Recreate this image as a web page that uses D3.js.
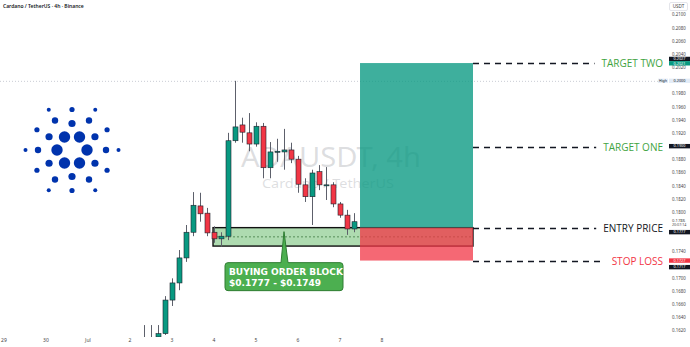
<!DOCTYPE html>
<html>
<head>
<meta charset="utf-8">
<script src="https://cdn.jsdelivr.net/npm/d3@7/dist/d3.min.js"></script>
<style>
  body { margin: 0; background: #fff; }
  svg { display: block; font-family: "Noto Sans", sans-serif; }
</style>
</head>
<body>
<svg></svg>
<script>
// ADA/USDT 4h candles, index 0 = Jul 2 ~ 12:00
const candleOpen  = [0.1603, 0.1600, 0.1611, 0.1616, 0.1667, 0.1693, 0.1731, 0.1770, 0.1810, 0.1799, 0.1770,
                     0.1760, 0.1764, 0.1909, 0.1933, 0.1921, 0.1904, 0.1931, 0.1868, 0.1892, 0.1892, 0.1895,
                     0.1881, 0.1842, 0.1824, 0.1862, 0.1842, 0.1842, 0.1813, 0.1796, 0.1775];
const candleHigh  = [0.1629, 0.1629, 0.1629, 0.1673, 0.1700, 0.1743, 0.1781, 0.1831, 0.1830, 0.1807, 0.1779,
                     0.1770, 0.1921, 0.2000, 0.1944, 0.1951, 0.1937, 0.1936, 0.1907, 0.1912, 0.1927, 0.1906,
                     0.1886, 0.1852, 0.1865, 0.1872, 0.1869, 0.1846, 0.1816, 0.1804, 0.1799];
const candleLow   = [0.1595, 0.1595, 0.1609, 0.1614, 0.1658, 0.1682, 0.1725, 0.1764, 0.1786, 0.1764, 0.1754,
                     0.1748, 0.1758, 0.1906, 0.1906, 0.1893, 0.1900, 0.1852, 0.1852, 0.1877, 0.1865, 0.1875,
                     0.1830, 0.1816, 0.1781, 0.1834, 0.1819, 0.1808, 0.1792, 0.1766, 0.1770];
const candleClose = [0.1600, 0.1604, 0.1616, 0.1667, 0.1693, 0.1731, 0.1770, 0.1811, 0.1798, 0.1769, 0.1760,
                     0.1764, 0.1909, 0.1930, 0.1922, 0.1904, 0.1931, 0.1868, 0.1892, 0.1893, 0.1895, 0.1881,
                     0.1843, 0.1824, 0.1860, 0.1842, 0.1842, 0.1813, 0.1796, 0.1775, 0.1786];

const dayTicks  = [-20, -14, -8, -2, 4, 10, 16, 22, 28, 34];
const dayLabels = ["29", "30", "Jul", "2", "3", "4", "5", "6", "7", "8"];

const priceTicks = [0.2100, 0.2080, 0.2060, 0.2040, 0.2020, 0.1980, 0.1960, 0.1940, 0.1920, 0.1880,
                    0.1860, 0.1840, 0.1820, 0.1800, 0.1740, 0.1700, 0.1680, 0.1660, 0.1640, 0.1620];

// trade plan
const levelNames  = ["TARGET TWO", "TARGET ONE", "ENTRY PRICE", "STOP LOSS"];
const levelPrices = [0.2027, 0.1900, 0.1777, 0.1727];
const blockRange  = [0.1777, 0.1749];     // buying order block
const blockStart  = 9.86;                 // candle index
const planStart   = 30.86;
const planEnd     = 47;
const highPrice   = 0.2000;

// price-axis tags
const markPrices = [0.2027, 0.2021, 0.2000, 0.1900, 0.1777, 0.1727, 0.1717];
const markKinds  = ["dark", "teal", "high", "dark", "dark", "red", "dark"];
const lastPrice  = 0.1786;
const countdown  = "20:07:14";

const width = 690, height = 347;
const svg = d3.select('svg').attr('width', width).attr('height', height);

const x = d3.scaleLinear().domain([-20.57, 78]).range([0, width]);
const y = d3.scaleLinear().domain([0.1620, 0.2100]).range([331, 15]);

svg.append('defs').append('clipPath').attr('id', 'plot')
    .append('rect').attr('x', 0).attr('y', 0).attr('width', 660).attr('height', 337);

const plot = svg.append('g').attr('clip-path', 'url(#plot)');

// watermark
plot.append('text')
    .attr('x', 241).attr('y', 167)
    .attr('font-size', 27)
    .attr('textLength', 180).attr('lengthAdjust', 'spacingAndGlyphs')
    .attr('fill', 'rgba(120,123,134,0.25)')
    .text('ADAUSDT, 4h');
plot.append('text')
    .attr('x', 262).attr('y', 188)
    .attr('font-size', 13)
    .attr('textLength', 132).attr('lengthAdjust', 'spacingAndGlyphs')
    .attr('fill', 'rgba(120,123,134,0.25)')
    .text('Cardano / TetherUS');

// cardano logo
const logo = plot.append('g').attr('transform', 'translate(72,150)');
const rings = [
    {r: 15,   a: 0,  s: 5.7},
    {r: 26.5, a: 30, s: 3.6},
    {r: 34,   a: 0,  s: 3.2},
    {r: 40.5, a: 30, s: 2.6},
    {r: 46.5, a: 0,  s: 2.0}
];
rings.forEach(function(ring) {
    d3.range(6).forEach(function(k) {
        let ang = (ring.a + k * 60) * Math.PI / 180;
        logo.append('circle')
            .attr('cx', ring.r * Math.cos(ang))
            .attr('cy', ring.r * Math.sin(ang))
            .attr('r', ring.s)
            .attr('fill', '#0033ad');
    });
});

// high line
plot.append('line')
    .attr('x1', 0).attr('x2', 660)
    .attr('y1', y(highPrice) + 0.5).attr('y2', y(highPrice) + 0.5)
    .attr('stroke', '#c9ccd4').attr('stroke-dasharray', '1,2');

// order block
const bx0 = x(blockStart), bx1 = x(planEnd);
const by0 = y(blockRange[0]), by1 = y(blockRange[1]);
plot.append('rect')
    .attr('x', bx0).attr('y', by0)
    .attr('width', bx1 - bx0).attr('height', by1 - by0)
    .attr('fill', 'rgba(76,175,80,0.45)');
plot.append('line')
    .attr('x1', bx0).attr('x2', bx1)
    .attr('y1', (by0 + by1) / 2).attr('y2', (by0 + by1) / 2)
    .attr('stroke', '#2e6b30').attr('stroke-dasharray', '2,2').attr('stroke-width', 0.7);
plot.append('rect')
    .attr('x', bx0).attr('y', by0)
    .attr('width', bx1 - bx0).attr('height', by1 - by0)
    .attr('fill', 'none').attr('stroke', '#111').attr('stroke-width', 1.4);

// candles
const candles = candleOpen.map((o, i) => ({i: i, o: o, h: candleHigh[i], l: candleLow[i], c: candleClose[i]}));

plot.selectAll('.wick').data(candles)
    .enter().append('line')
        .attr('class', 'wick')
        .attr('x1', d => Math.round(x(d.i)) + 0.5)
        .attr('x2', d => Math.round(x(d.i)) + 0.5)
        .attr('y1', d => y(d.h))
        .attr('y2', d => y(d.l))
        .attr('stroke', '#5d606b');

plot.selectAll('.body').data(candles)
    .enter().append('rect')
        .attr('class', 'body')
        .attr('x', d => Math.round(x(d.i)) - 2)
        .attr('width', 5)
        .attr('y', d => y(Math.max(d.o, d.c)))
        .attr('height', d => Math.max(1, Math.abs(y(d.o) - y(d.c))))
        .attr('fill', d => d.c >= d.o ? '#089981' : '#f23645')
        .attr('stroke', '#1e222d')
        .attr('stroke-width', 0.6);

// long position tool
const px0 = x(planStart), px1 = x(planEnd);
plot.append('rect')
    .attr('x', px0).attr('y', y(levelPrices[0]))
    .attr('width', px1 - px0).attr('height', y(levelPrices[2]) - y(levelPrices[0]))
    .attr('fill', 'rgba(8,153,129,0.78)');
plot.append('rect')
    .attr('x', px0).attr('y', y(levelPrices[2]))
    .attr('width', px1 - px0).attr('height', y(levelPrices[3]) - y(levelPrices[2]))
    .attr('fill', 'rgba(242,54,69,0.75)');

// level lines and labels, right aligned just left of the price scale
const levelColors = ['#3fa43f', '#3fa43f', '#131722', '#f23645'];
levelNames.forEach(function(name, k) {
    let ly = Math.round(y(levelPrices[k])) + 0.5;
    let label = svg.append('text')
        .attr('x', 663).attr('y', ly + 3.6)
        .attr('text-anchor', 'end')
        .attr('font-family', '"Open Sans", sans-serif')
        .attr('font-size', 10)
        .attr('fill', levelColors[k])
        .text(name);
    let w = label.node().getComputedTextLength();
    svg.append('line')
        .attr('x1', px1).attr('x2', 663 - w - 7)
        .attr('y1', ly).attr('y2', ly)
        .attr('stroke', '#131722').attr('stroke-width', 1.3)
        .attr('stroke-dasharray', '6,5');
});

// callout for the block
const tipX = 284, tipY = by0 + 4;
const boxW = 118, boxH = 28, boxY = tipY + 31;
svg.append('path')
    .attr('d', 'M' + (tipX - boxW / 2 + 3) + ',' + boxY +
               'L' + (tipX - 3) + ',' + boxY + 'L' + tipX + ',' + tipY + 'L' + (tipX + 4) + ',' + boxY +
               'L' + (tipX + boxW / 2 - 3) + ',' + boxY +
               'Q' + (tipX + boxW / 2) + ',' + boxY + ' ' + (tipX + boxW / 2) + ',' + (boxY + 3) +
               'L' + (tipX + boxW / 2) + ',' + (boxY + boxH - 3) +
               'Q' + (tipX + boxW / 2) + ',' + (boxY + boxH) + ' ' + (tipX + boxW / 2 - 3) + ',' + (boxY + boxH) +
               'L' + (tipX - boxW / 2 + 3) + ',' + (boxY + boxH) +
               'Q' + (tipX - boxW / 2) + ',' + (boxY + boxH) + ' ' + (tipX - boxW / 2) + ',' + (boxY + boxH - 3) +
               'L' + (tipX - boxW / 2) + ',' + (boxY + 3) +
               'Q' + (tipX - boxW / 2) + ',' + boxY + ' ' + (tipX - boxW / 2 + 3) + ',' + boxY + 'Z')
    .attr('fill', '#4caf50').attr('stroke', '#2e7d32').attr('stroke-width', 1);
svg.append('text')
    .attr('x', tipX - boxW / 2 + 4).attr('y', boxY + 12)
    .attr('font-family', '"DejaVu Sans", sans-serif').attr('font-weight', 'bold')
    .attr('font-size', 9).attr('fill', '#fff')
    .text('BUYING ORDER BLOCK');
svg.append('text')
    .attr('x', tipX - boxW / 2 + 4).attr('y', boxY + 23)
    .attr('font-family', '"DejaVu Sans", sans-serif').attr('font-weight', 'bold')
    .attr('font-size', 9).attr('fill', '#fff')
    .text('$' + blockRange[0].toFixed(4) + ' - $' + blockRange[1].toFixed(4));

// title
svg.append('text')
    .attr('x', 3).attr('y', 8)
    .attr('font-size', 5).attr('font-weight', 600).attr('fill', '#131722')
    .text('Cardano / TetherUS · 4h · Binance');

// time axis
svg.selectAll('.day').data(dayTicks)
    .enter().append('text')
        .attr('class', 'day')
        .attr('x', d => x(d))
        .attr('y', 342)
        .attr('text-anchor', 'middle')
        .attr('font-size', 5).attr('fill', '#444')
        .text((d, k) => dayLabels[k]);

// price axis
svg.selectAll('.tick').data(priceTicks)
    .enter().append('text')
        .attr('class', 'tick')
        .attr('x', 672)
        .attr('y', d => y(d) + 1.4)
        .attr('font-size', 4.4).attr('fill', '#444')
        .text(d => d.toFixed(4));

svg.append('rect')
    .attr('x', 669.5).attr('y', 2.5).attr('width', 18).attr('height', 8).attr('rx', 1.5)
    .attr('fill', '#fff').attr('stroke', '#d1d4dc').attr('stroke-width', 0.6);
svg.append('text')
    .attr('x', 678.5).attr('y', 8.2).attr('text-anchor', 'middle')
    .attr('font-size', 4.6).attr('fill', '#444').text('USDT');

const markShift = [-4.1, -3.7, 0, -0.5, 4.5, 0, 0];
const markFill = {dark: '#131722', teal: '#089981', red: '#f23645', high: '#e3ecf7'};
markPrices.forEach(function(p, k) {
    let my = y(p) + markShift[k];
    let kind = markKinds[k];
    svg.append('rect')
        .attr('x', 669).attr('y', my - 2.2).attr('width', 21).attr('height', 4.4)
        .attr('fill', markFill[kind]);
    svg.append('text')
        .attr('x', 679.5).attr('y', my + 1.3).attr('text-anchor', 'middle')
        .attr('font-size', 3.8).attr('fill', kind === 'high' ? '#131722' : '#fff')
        .text(p.toFixed(4));
    if (kind === 'high') {
        svg.append('rect')
            .attr('x', 658).attr('y', my - 2.2).attr('width', 10).attr('height', 4.4)
            .attr('fill', markFill.high);
        svg.append('text')
            .attr('x', 663).attr('y', my + 1.3).attr('text-anchor', 'middle')
            .attr('font-size', 3.6).attr('fill', '#131722').text('High');
    }
});

svg.append('text')
    .attr('x', 672).attr('y', y(lastPrice) + 0.5)
    .attr('font-size', 4.2).attr('fill', '#444').text(lastPrice.toFixed(4));
svg.append('text')
    .attr('x', 672).attr('y', y(lastPrice) + 4.6)
    .attr('font-size', 3.6).attr('fill', '#444').text(countdown);
</script>
</body>
</html>
